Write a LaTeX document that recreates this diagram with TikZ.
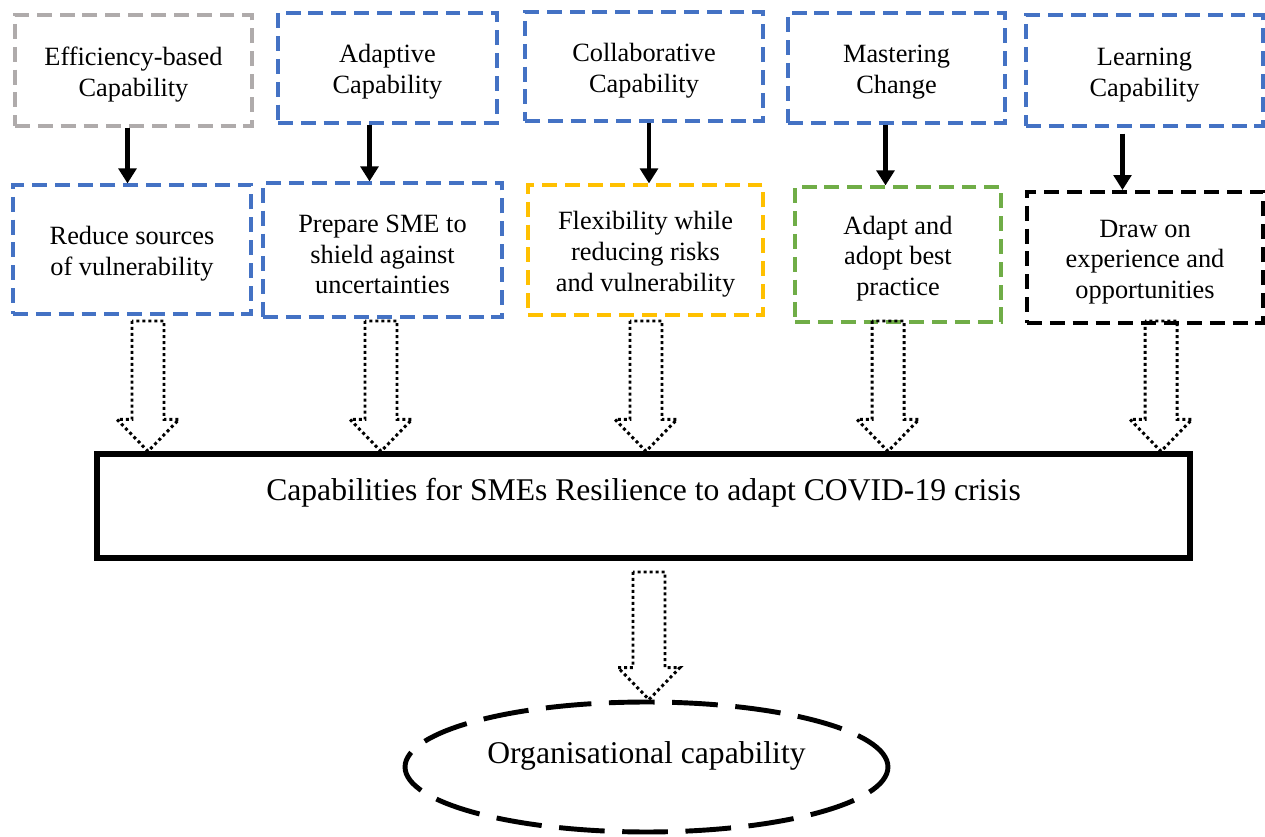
\documentclass[tikz,border=0pt]{standalone}
\usepackage{fontspec}
\setmainfont{Liberation Serif}
\usetikzlibrary{arrows.meta,shapes.geometric,calc}
\definecolor{cblue}{HTML}{4472C4}
\definecolor{cgray}{HTML}{AFABAB}
\definecolor{cyellow}{HTML}{FFC000}
\definecolor{cgreen}{HTML}{70AD47}
\newcommand\blkarrow[2]{%
  \draw[bdot] ($(#1)+(-16,0)$) -- ($(#2)+(-16,-32)$) -- ($(#2)+(-31,-32)$) -- (#2)
    -- ($(#2)+(31,-32)$) -- ($(#2)+(16,-32)$) -- ($(#1)+(16,0)$) -- cycle;}
\newcommand\tstrut{\rule{0pt}{15pt}}
\begin{document}
\begin{tikzpicture}[x=0.02cm,y=-0.02cm,
  box/.style={draw, rectangle, line width=1.8pt, dash pattern=on 8.5pt off 4.5pt,
    inner sep=0pt, align=center, font=\fontsize{15}{17.5}\selectfont},
  sarrow/.style={line width=2.6pt, -{Triangle[length=8.5pt,width=10pt]}},
  bdot/.style={line width=1.7pt, dash pattern=on 1.7pt off 1.7pt, line cap=butt},
  bigbox/.style={draw, rectangle, line width=3pt, inner sep=0pt,
    font=\fontsize{18}{21}\selectfont, text height=12.5pt, text depth=19.3pt},
  oval/.style={draw, ellipse, line width=2.8pt, dash pattern=on 26pt off 10pt,
    inner sep=0pt, font=\fontsize{18}{21}\selectfont, text height=12.5pt, text depth=17pt}]
\useasboundingbox (0,0) rectangle (1265,837);
% top row
\node[box, draw=cgray, minimum width=4.74cm, minimum height=2.22cm] (t1) at (133.5,70.5) {\tstrut Efficiency-based\\Capability};
\node[box, draw=cblue, minimum width=4.38cm, minimum height=2.20cm] (t2) at (387.5,68) {\tstrut Adaptive\\Capability};
\node[box, draw=cblue, minimum width=4.76cm, minimum height=2.18cm] (t3) at (644,66.5) {\tstrut Collaborative\\Capability};
\node[box, draw=cblue, minimum width=4.34cm, minimum height=2.20cm] (t4) at (896.5,68) {\tstrut Mastering\\Change};
\node[box, draw=cblue, minimum width=4.74cm, minimum height=2.22cm] (t5) at (1144.5,70.5) {\tstrut Learning\\Capability};
% second row
\node[box, draw=cblue, minimum width=4.76cm, minimum height=2.58cm] (b1) at (132,249.5) {\tstrut Reduce sources\\of vulnerability};
\node[box, draw=cblue, minimum width=4.78cm, minimum height=2.68cm] (b2) at (382.5,250) {\tstrut Prepare SME to\\shield against\\uncertainties};
\node[box, draw=cyellow, minimum width=4.70cm, minimum height=2.60cm] (b3) at (645.5,250) {\tstrut Flexibility while\\reducing risks\\and vulnerability};
\node[box, draw=cgreen, minimum width=4.12cm, minimum height=2.70cm] (b4) at (898,254.5) {\tstrut Adapt and\\adopt best\\practice};
\node[box, draw=black, line width=2.3pt, minimum width=4.72cm, minimum height=2.62cm] (b5) at (1145,257.5) {\tstrut Draw on\\experience and\\opportunities};
% big box and oval
\node[bigbox, minimum width=21.86cm, minimum height=2.08cm] (big) at (643.5,506) {Capabilities for SMEs Resilience to adapt COVID-19 crisis};
\node[oval, minimum width=9.66cm, minimum height=2.6cm] (ell) at (646.5,767) {Organisational capability};
% solid arrows
\coordinate (s1) at ($(t1.south)+(-6,0)$);
\coordinate (s2) at ($(t2.south)+(-18,0)$);
\coordinate (s3) at ($(t3.south)+(5,0)$);
\coordinate (s4) at ($(t4.south)+(-11,0)$);
\coordinate (s5) at ($(t5.south)+(-22,6)$);
\draw[sarrow] (s1) -- (s1 |- b1.north);
\draw[sarrow] (s2) -- (s2 |- b2.north);
\draw[sarrow] (s3) -- (s3 |- b3.north);
\draw[sarrow] (s4) -- (s4 |- b4.north);
\draw[sarrow] (s5) -- (s5 |- b5.north);
% block arrows
\coordinate (a1) at (148,321);
\coordinate (a2) at (381,321);
\coordinate (a3) at (646,321);
\coordinate (a4) at (888,321);
\coordinate (a5) at (1161,321);
\coordinate (a6) at (649,572);
\coordinate (e1) at (a1 |- big.north);
\coordinate (e2) at (a2 |- big.north);
\coordinate (e3) at (a3 |- big.north);
\coordinate (e4) at (a4 |- big.north);
\coordinate (e5) at (a5 |- big.north);
\coordinate (e6) at (a6 |- ell.north);
\blkarrow{a1}{e1}
\blkarrow{a2}{e2}
\blkarrow{a3}{e3}
\blkarrow{a4}{e4}
\blkarrow{a5}{e5}
\blkarrow{a6}{e6}
\end{tikzpicture}
\end{document}
